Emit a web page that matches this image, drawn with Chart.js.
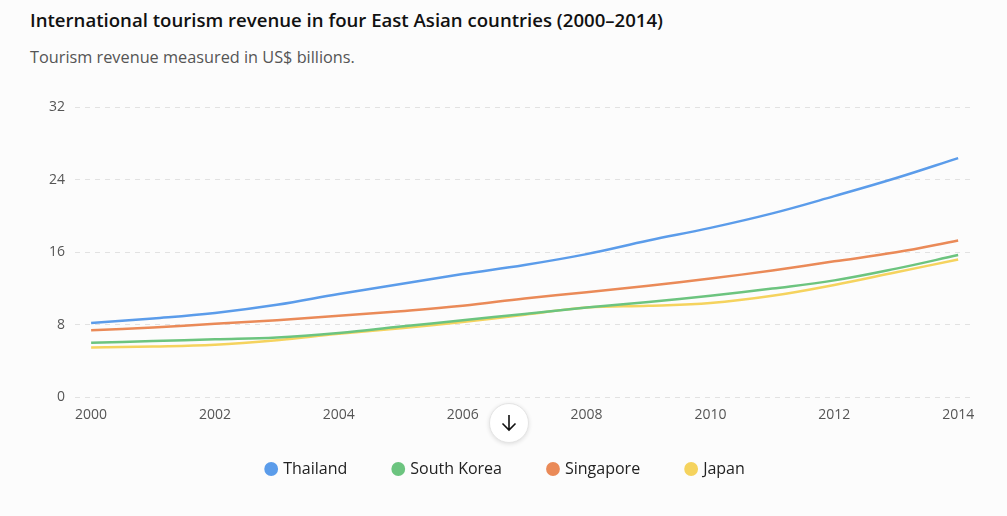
<!DOCTYPE html>
<html>
<head>
<meta charset="utf-8">
<script src="https://cdn.jsdelivr.net/npm/chart.js@4"></script>
<style>
  html, body { margin: 0; padding: 0; background: #fcfcfc; }
  body { width: 1007px; height: 516px; position: relative; overflow: hidden; font-family: "Open Sans", sans-serif; }
  #title { position: absolute; left: 30px; top: 7px; font-size: 18.6px; font-weight: 600; color: #111; }
  #sub { position: absolute; left: 30px; top: 46px; font-size: 16.3px; color: #555; }
  #wrap { position: absolute; left: 0; top: 89px; width: 1007px; height: 416px; }
  #btn { position: absolute; left: 489px; top: 403px; width: 40px; height: 40px; border-radius: 50%;
         background: #fff; border: 1px solid #e4e4e4; box-shadow: 0 1px 4px rgba(0,0,0,0.12); box-sizing: border-box; }
  #btn svg { position: absolute; left: 9px; top: 9px; }
</style>
</head>
<body>
<div id="title">International tourism revenue in four East Asian countries (2000–2014)</div>
<div id="sub">Tourism revenue measured in US$ billions.</div>
<div id="wrap"><canvas id="chart"></canvas></div>
<div id="btn"><svg width="20" height="20" viewBox="0 0 20 20"><path d="M10 2 V17 M3.5 10.5 L10 17 L16.5 10.5" stroke="#111" stroke-width="1.6" fill="none"/></svg></div>
<script>
// ---------- DATA ----------
let years = [2000, 2001, 2002, 2003, 2004, 2005, 2006, 2007, 2008, 2009, 2010, 2011, 2012, 2013, 2014];
let thailand  = [8.2, 8.7, 9.3, 10.2, 11.4, 12.5, 13.6, 14.6, 15.8, 17.3, 18.7, 20.3, 22.2, 24.2, 26.4];
let korea     = [6.0, 6.2, 6.4, 6.6, 7.1, 7.8, 8.5, 9.2, 9.9, 10.5, 11.2, 12.0, 12.9, 14.2, 15.7];
let singapore = [7.4, 7.7, 8.1, 8.5, 9.0, 9.5, 10.1, 10.9, 11.6, 12.3, 13.1, 14.0, 15.0, 16.0, 17.3];
let japan     = [5.5, 5.6, 5.8, 6.3, 7.0, 7.6, 8.3, 9.1, 9.9, 10.1, 10.4, 11.2, 12.4, 13.8, 15.2];
let xTicks = [2000, 2002, 2004, 2006, 2008, 2010, 2012, 2014];

function series(label, vals, color) {
  return {
    label: label,
    data: years.map((y, i) => ({ x: y, y: vals[i] })),
    borderColor: color,
    backgroundColor: color,
    borderWidth: 2.5,
    tension: 0.4,
    pointRadius: 0,
    fill: false
  };
}

// legend sits a bit closer to the axis than its padding allows
const liftLegend = {
  id: "liftLegend",
  afterLayout(chart) {
    chart.legend.top -= 10;
    chart.legend.bottom -= 10;
  }
};

Chart.defaults.font.family = "'Open Sans', sans-serif";

new Chart(document.getElementById("chart"), {
  type: "line",
  data: {
    datasets: [
      series("Thailand", thailand, "#5b9cea"),
      series("South Korea", korea, "#6cc47f"),
      series("Singapore", singapore, "#ea8a58"),
      series("Japan", japan, "#f5d35e")
    ]
  },
  plugins: [liftLegend],
  options: {
    responsive: true,
    maintainAspectRatio: false,
    animation: false,
    layout: { padding: { left: 39, right: 34, top: 8, bottom: 8 } },
    plugins: {
      legend: {
        position: "bottom",
        labels: {
          usePointStyle: true,
          pointStyle: "circle",
          boxWidth: 8,
          boxHeight: 8,
          padding: 47,
          color: "#222",
          font: { size: 16 }
        }
      },
      tooltip: { enabled: false }
    },
    scales: {
      x: {
        type: "linear",
        min: 1999.74,
        max: 2014.24,
        afterBuildTicks: axis => { axis.ticks = xTicks.map(v => ({ value: v })); },
        grid: { display: false },
        border: { display: false },
        ticks: { color: "#555", font: { size: 14 }, padding: 1, callback: v => String(v) }
      },
      y: {
        min: 0,
        max: 32,
        ticks: { stepSize: 8, color: "#555", font: { size: 14 }, padding: 10 },
        grid: { color: "#e2e2e2", drawTicks: false },
        border: { display: false, dash: [5, 5] }
      }
    }
  }
});
</script>
</body>
</html>
